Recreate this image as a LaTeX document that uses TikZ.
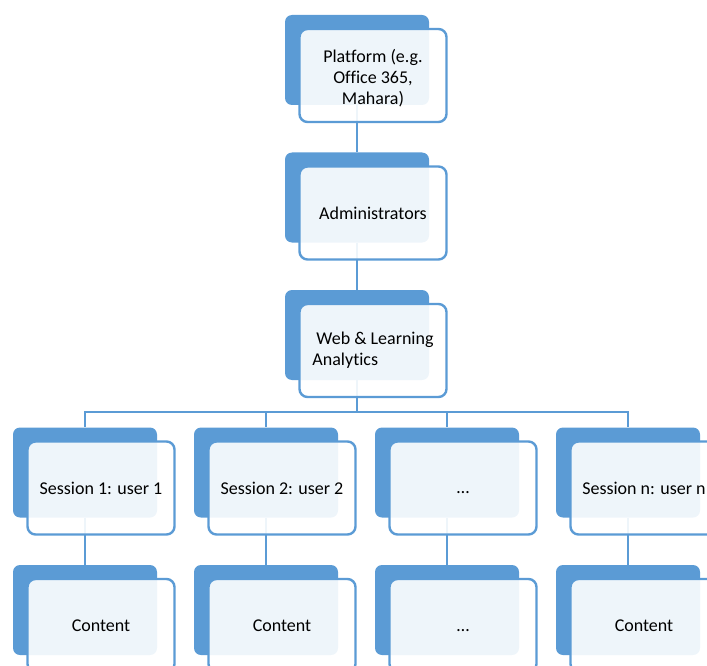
\documentclass[tikz,border=0pt]{standalone}
\usepackage{fontspec}
\setmainfont{Carlito}[Ligatures=NoCommon]
\definecolor{boxblue}{RGB}{91,155,213}
\tikzset{
  backbox/.style={rectangle, rounded corners=7pt, fill=boxblue,
    minimum width=144pt, minimum height=90pt, inner sep=0pt},
  frontbox/.style={rectangle, rounded corners=8pt, draw=boxblue, line width=2.4pt,
    fill=white, fill opacity=0.9, text opacity=1, text=black,
    minimum width=147pt, minimum height=93pt, inner sep=2pt,
    font=\fontsize{18}{21}\selectfont},
  link/.style={draw=boxblue, line width=2.6pt},
}

\begin{document}
\begin{tikzpicture}[x=1pt, y=-1pt]
	\useasboundingbox (0,0) rectangle (707,666);
	\clip (0,0) rectangle (707,666);
	% back boxes
	\node[backbox] (plat-b) at (357,60) {};
	\node[backbox] (adm-b) at (357,197.5) {};
	\node[backbox] (web-b) at (357,335) {};
	\foreach \i/\colx in {1/85, 2/266, 3/447, 4/628} {
		\node[backbox] (s\i-b) at (\colx,472.5) {};
		\node[backbox] (c\i-b) at (\colx,610) {};
	}
	% connectors
	\coordinate (bus) at (357,412);
	\draw[link] (plat-b.south) -- (adm-b.north);
	\draw[link] (adm-b.south) -- (web-b.north);
	\foreach \i in {1,2,3,4} {
		\draw[link] (web-b.south) -- (bus) -| (s\i-b.north);
		\draw[link] (s\i-b.south) -- (c\i-b.north);
	}
	% front boxes with text
	\node[frontbox, align=center] (plat) at (373,75.5) {\\[-2pt]Platform (e.g.\\Office 365,\\Mahara)};
	\node[frontbox] (adm) at (373,213) {Administrators};
	\node[frontbox, align=left] (web) at (373,350.5) {\hspace*{4pt}Web \& Learning\\Analytics};
	\foreach \i/\colx/\stext/\ctext in {1/85/Session 1: user 1/Content, 2/266/Session 2: user 2/Content,
		3/447/\vphantom{S}\ldots/\vphantom{C}\ldots, 4/628/Session n: user n/Content} {
		\node[frontbox] (s\i) at (\colx+16,488) {\stext};
		\node[frontbox] (c\i) at (\colx+16,625.5) {\ctext};
	}
\end{tikzpicture}
\end{document}
